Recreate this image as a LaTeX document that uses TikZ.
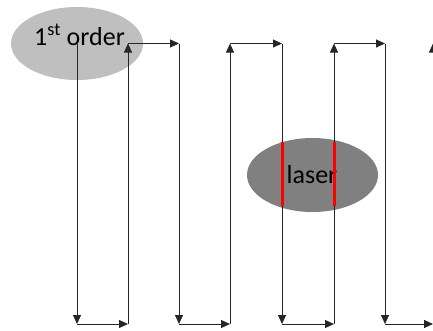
\documentclass[tikz,border=0pt]{standalone}
\usepackage{fontspec}
\setmainfont{Carlito}
\usetikzlibrary{arrows.meta,shapes.geometric}
\definecolor{lightell}{HTML}{BFBFBF}
\definecolor{darkell}{HTML}{808080}
\tikzset{
  blob/.style={ellipse, draw=none, inner sep=0pt},
  lbl/.style={inner sep=0pt, font=\fontsize{26}{31}\selectfont, anchor=base},
  flow/.style={draw=black!85, line width=0.9pt, -{Triangle[length=9pt,width=8pt]}},
  hot/.style={draw=red, line width=3pt}
}
\begin{document}
\begin{tikzpicture}[x=1pt,y=-1pt]
\useasboundingbox (0,0) rectangle (433,330);
\clip (0,0) rectangle (433,330);
\node[blob, fill=lightell, minimum width=132pt, minimum height=73pt] (order) at (77,43.5) {};
\node[blob, fill=darkell, minimum width=131pt, minimum height=74pt] (laser) at (312.5,175) {};
\node[lbl] (ordertxt) at (79.5,45) {1\textsuperscript{st} order};
\node[lbl] (lasertxt) at (312,183) {laser};
% corner coordinates
\foreach \i/\x in {1/77,2/128,3/179,4/230,5/282,6/334,7/385,8/433}{
  \coordinate (t\i) at (\x,43.5);
  \coordinate (b\i) at (\x,324);
}
\draw[flow] (t1) -- (b1);
\draw[flow] (b1) -- (b2);
\draw[flow] (b2) -- (t2);
\draw[flow] (t2) -- (t3);
\draw[flow] (t3) -- (b3);
\draw[flow] (b3) -- (b4);
\draw[flow] (b4) -- (t4);
\draw[flow] (t4) -- (t5);
\draw[flow] (t5) -- (b5);
\draw[flow] (b5) -- (b6);
\draw[flow] (b6) -- (t6);
\draw[flow] (t6) -- (t7);
\draw[flow] (t7) -- (b7);
\draw[flow] (b7) -- (b8);
\draw[flow] (b8) -- (t8);
% red marks inside the laser
\coordinate (r1a) at (282,142);
\coordinate (r1b) at (282,206);
\coordinate (r2a) at (334,142);
\coordinate (r2b) at (334,206);
\draw[hot] (r1a) -- (r1b);
\draw[hot] (r2a) -- (r2b);
\end{tikzpicture}
\end{document}
